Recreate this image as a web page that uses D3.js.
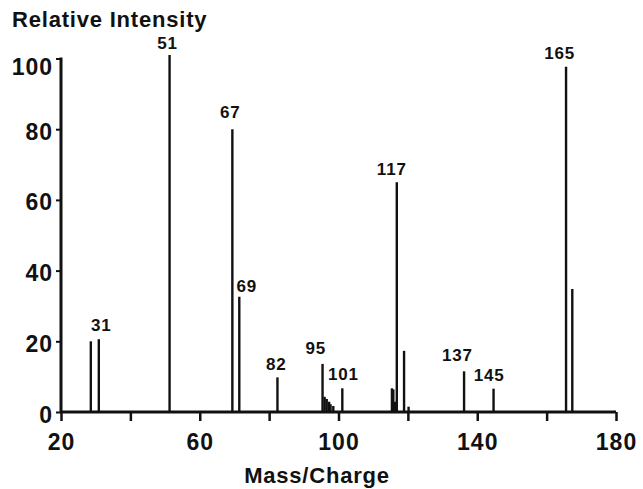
<!DOCTYPE html>
<html><head><meta charset="utf-8">
<script src="https://cdn.jsdelivr.net/npm/d3@7"></script>
<style>
html,body{margin:0;padding:0;background:#fff;}
text{font-family:"Liberation Sans",Arial,Helvetica,sans-serif;font-weight:bold;fill:#111;}
</style></head>
<body>
<svg id="chart" width="643" height="489"></svg>
<script>
// ---- data ----
const peakMz = [28.6, 30.9, 51.3, 69.4, 71.4, 82.4, 95.4, 96.0, 96.6, 97.3, 97.7, 98.5, 101.1,
                115.4, 115.8, 116.3, 116.8, 118.9, 120.2, 136.2, 144.7, 165.6, 167.4];
const peakIntensity = [20.0, 20.6, 101, 80, 32.6, 9.8, 13.6, 4.3, 3.7, 2.9, 2.2, 1.7, 6.7,
                6.7, 6.4, 2.9, 65, 17.3, 1.5, 11.5, 6.6, 97.7, 34.8];
const labelTexts = ["31","51","67","69","82","95","101","117","137","145","165"];
const labelPeakIndex = [1, 2, 3, 4, 5, 6, 12, 16, 19, 20, 21];
const xTicks = [20, 40, 60, 80, 100, 120, 140, 160, 180];
const xTickLabels = ["20", "", "60", "", "100", "", "140", "", "180"];
const yTicks = [0, 20, 40, 60, 80, 100];
const yTickLabels = ["0", "20", "40", "60", "80", "100"];
const yTitle = "Relative Intensity";
const xTitle = "Mass/Charge";

// ---- layout (pixel offsets of peak labels relative to peak tops) ----
const labelOffsets = [[2.5,-8.3],[-2,-5.7],[-2,-11],[7.5,-5],[-1.3,-7.3],[-6.7,-10],
                      [1,-8.3],[-5,-7],[-6.7,-10.3],[-4.4,-8],[-6.3,-7.7]];

const svg = d3.select("#chart");
const x = d3.scaleLinear().domain([20, 180]).range([61, 616]);
const y = d3.scaleLinear().domain([0, 100]).range([412, 58.5]);

// peaks
svg.append("g").selectAll("line").data(peakMz).join("line")
  .attr("x1", d => x(d)).attr("x2", d => x(d))
  .attr("y1", y(0)).attr("y2", (d, i) => y(peakIntensity[i]))
  .attr("stroke", "#111").attr("stroke-width", 2.4);

// x axis
const xAxis = d3.axisBottom(x).tickValues(xTicks).tickSize(9)
  .tickFormat((d, i) => xTickLabels[i]);
const gx = svg.append("g").attr("transform", `translate(0,${y(0)})`).call(xAxis);
gx.select(".domain").attr("d", `M${x(20)},0H${x(180)}`).attr("stroke", "#111").attr("stroke-width", 3);
gx.selectAll(".tick line").attr("stroke", "#111").attr("stroke-width", 2.5);
gx.selectAll(".tick text").attr("y", 38).attr("dy", 0)
  .style("font-size", "23px").style("letter-spacing", "1px").attr("fill", "#111");

// y axis
const yAxis = d3.axisLeft(y).tickValues(yTicks).tickSize(5)
  .tickFormat((d, i) => yTickLabels[i]);
const gy = svg.append("g").attr("transform", `translate(${x(20)},0)`).call(yAxis);
gy.select(".domain").attr("d", `M0,${y(0)}V${y(100) - 1}`).attr("stroke", "#111").attr("stroke-width", 3);
gy.selectAll(".tick line").attr("stroke", "#111").attr("stroke-width", 2);
gy.selectAll(".tick text").attr("x", -8).attr("dy", (d) => d === 100 ? "16" : "10")
  .style("font-size", "23px").style("letter-spacing", "1px").attr("fill", "#111");

// peak labels
svg.append("g").selectAll("text").data(labelTexts).join("text")
  .attr("x", (d, i) => x(peakMz[labelPeakIndex[i]]) + labelOffsets[i][0])
  .attr("y", (d, i) => y(peakIntensity[labelPeakIndex[i]]) + labelOffsets[i][1])
  .attr("text-anchor", "middle")
  .style("font-size", "17px").style("letter-spacing", "0.8px")
  .text(d => d);

// titles
svg.append("text").attr("x", 12).attr("y", 27)
  .style("font-size", "22px").style("letter-spacing", "0.8px").text(yTitle);
svg.append("text").attr("x", 317).attr("y", 483).attr("text-anchor", "middle")
  .style("font-size", "22px").style("letter-spacing", "0.8px").text(xTitle);
</script>
</body></html>
